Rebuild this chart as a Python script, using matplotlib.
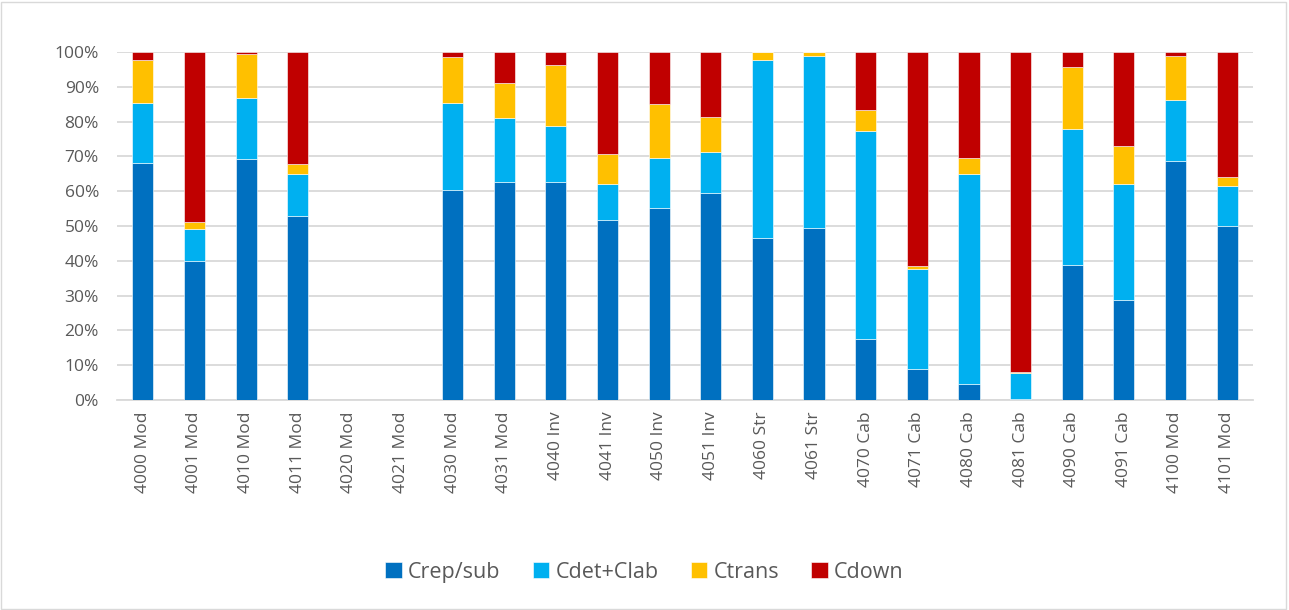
#Importing matplotlib and numpy Libraries
import matplotlib.pyplot as plt
import numpy as np
from matplotlib.patches import Rectangle

#Categories and the four cost shares (in %) of every bar
categories = ["4000 Mod", "4001 Mod", "4010 Mod", "4011 Mod", "4020 Mod", "4021 Mod",
              "4030 Mod", "4031 Mod", "4040 Inv", "4041 Inv", "4050 Inv", "4051 Inv",
              "4060 Str", "4061 Str", "4070 Cab", "4071 Cab", "4080 Cab", "4081 Cab",
              "4090 Cab", "4091 Cab", "4100 Mod", "4101 Mod"]
crep_sub = [68.0, 39.8, 69.2, 52.9, 0, 0, 60.3, 62.5, 62.5, 51.7, 55.2, 59.6,
            46.6, 49.5, 17.6, 8.8, 4.5, 0.4, 38.9, 28.7, 68.8, 50.1]
cdet_clab = [17.4, 9.2, 17.7, 12.0, 0, 0, 25.1, 18.6, 16.3, 10.3, 14.4, 11.8,
             51.1, 49.2, 59.8, 28.7, 60.5, 7.4, 38.9, 33.4, 17.5, 11.4]
ctrans = [12.3, 2.1, 12.4, 2.8, 0, 0, 13.2, 9.9, 17.6, 8.6, 15.5, 9.9,
          2.3, 1.3, 5.8, 1.1, 4.6, 0.2, 18.0, 10.8, 12.5, 2.7]
cdown = [2.3, 48.9, 0.7, 32.3, 0, 0, 1.4, 9.0, 3.6, 29.4, 14.9, 18.7,
         0, 0, 16.8, 61.4, 30.4, 92.0, 4.2, 27.1, 1.2, 35.8]

series = [("Crep/sub", crep_sub, "#0070C0"),
          ("Cdet+Clab", cdet_clab, "#00B0F0"),
          ("Ctrans", ctrans, "#FFC000"),
          ("Cdown", cdown, "#C00000")]

plt.rcParams['font.family'] = ['Open Sans', 'DejaVu Sans']

fig = plt.figure(figsize=(12.89, 6.10), dpi=100)
ax = fig.add_axes([0.0908, 0.3443, 0.8812, 0.5705])

x = np.arange(len(categories))
bottom = np.zeros(len(categories))
for name, vals, col in series:
    vals = np.array(vals) / 100.0
    ax.bar(x, vals, width=0.41, bottom=bottom, color=col, label=name,
           edgecolor="white", linewidth=0.4, zorder=3)
    bottom += vals

#axis styling
ax.set_xlim(-0.5, len(categories) - 0.5)
ax.set_ylim(0, 1)
ax.set_yticks(np.arange(0, 1.01, 0.1))
ax.set_yticklabels([f"{int(round(v*100))}%" for v in np.arange(0, 1.01, 0.1)])
ax.set_xticks(x)
ax.set_xticklabels(categories, rotation=90)
ax.tick_params(axis="both", length=0, labelsize=12.5, colors="#595959")
ax.tick_params(axis="x", pad=8)
ax.tick_params(axis="y", pad=13)
ax.grid(axis="y", color="#d9d9d9", linewidth=1.3, zorder=0)
for s in ["top", "right", "left"]:
    ax.spines[s].set_visible(False)
ax.spines["bottom"].set_color("#d9d9d9")
ax.spines["bottom"].set_linewidth(1.3)

leg = fig.legend(loc="center", bbox_to_anchor=(0.5, 0.062), ncol=4, frameon=False,
                 fontsize=15.5, handlelength=0.75, handleheight=0.75,
                 columnspacing=1.5, handletextpad=0.3)
for t in leg.get_texts():
    t.set_color("#595959")

#light border around the chart
fig.patches.append(Rectangle((0.001, 0.002), 0.997, 0.995, transform=fig.transFigure,
                             fill=False, edgecolor="#d9d9d9", linewidth=1))

plt.savefig("out.png", dpi=100)
